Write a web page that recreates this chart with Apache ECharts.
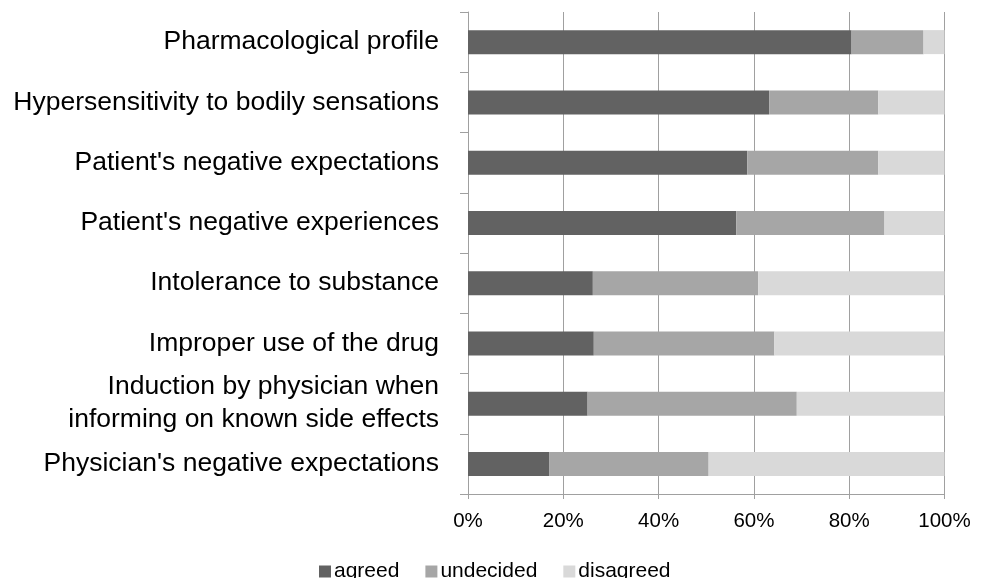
<!DOCTYPE html>
<html><head><meta charset="utf-8">
<script src="https://cdn.jsdelivr.net/npm/echarts@6/dist/echarts.min.js"></script>
<style>html,body{margin:0;padding:0;background:#fff}#c{width:985px;height:578px}</style>
</head><body><div id="c"></div>
<script>
const categories = [
  "Pharmacological profile",
  "Hypersensitivity to bodily sensations",
  "Patient's negative expectations",
  "Patient's negative experiences",
  "Intolerance to substance",
  "Improper use of the drug",
  "Induction by physician when\ninforming on known side effects",
  "Physician's negative expectations"
];
const agreed     = [80.5, 63.2, 58.6, 56.3, 26.2, 26.4, 25.1, 17.1];
const undecided  = [15.1, 22.9, 27.5, 31.1, 34.7, 37.9, 43.9, 33.4];
const disagreed  = [4.4, 13.9, 13.9, 12.6, 39.1, 35.7, 31.0, 49.5];
const xTicks = ["0%", "20%", "40%", "60%", "80%", "100%"];

const font = "Liberation Sans, Arial, sans-serif";
const chart = echarts.init(document.getElementById('c'));
function s(name, data, color) {
  return { name, type: 'bar', stack: 'all', data, barWidth: 24,
    itemStyle: { color }, emphasis: { disabled: true } };
}
chart.setOption({
  animation: false,
  grid: { left: 468, right: 40.5, top: 12, bottom: 84 },
  legend: {
    top: 561, left: 319, itemWidth: 12, itemHeight: 12, itemGap: 26,
    icon: 'rect', padding: 0,
    textStyle: { fontFamily: font, fontSize: 21, color: '#000', padding: [0,0,0,-2] },
    data: ['agreed', 'undecided', 'disagreed']
  },
  xAxis: {
    type: 'value', min: 0, max: 100, interval: 20,
    axisLine: { show: true, lineStyle: { color: '#a0a0a0', width: 1 } },
    axisTick: { show: true, length: 5, lineStyle: { color: '#a0a0a0' } },
    splitLine: { show: true, lineStyle: { color: '#a0a0a0', width: 1 } },
    axisLabel: { fontFamily: font, fontSize: 20.5, color: '#000', margin: 17,
      formatter: v => xTicks[v / 20] }
  },
  yAxis: {
    type: 'category', data: categories, inverse: true,
    axisLine: { show: true, lineStyle: { color: '#a0a0a0', width: 1 } },
    axisTick: { show: true, length: 8, lineStyle: { color: '#a0a0a0' } },
    axisLabel: { fontFamily: font, fontSize: 26.5, color: '#000', margin: 29, lineHeight: 33, align: 'right' }
  },
  series: [
    s('agreed', agreed, '#626262'),
    s('undecided', undecided, '#a6a6a6'),
    s('disagreed', disagreed, '#d9d9d9')
  ]
});
</script></body></html>
